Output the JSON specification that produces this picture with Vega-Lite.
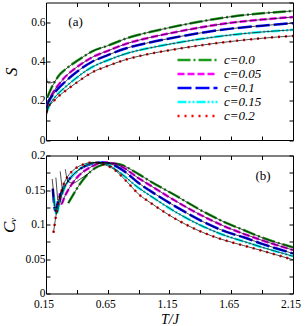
{
  "$schema": "https://vega.github.io/schema/vega-lite/v6.json",
  "padding": {"left": 0, "top": 1.5, "right": 11, "bottom": 0},
  "bounds": "flush",
  "spacing": 15,
  "config": {
    "font": "Liberation Serif",
    "view": {"stroke": "black", "strokeWidth": 1},
    "axis": {"domain": false, "tickColor": "black", "tickSize": -4, "tickWidth": 1, "labelFont": "Liberation Serif", "labelFontSize": 11.5, "labelColor": "black", "labelFlush": false, "labelOverlap": false, "grid": false, "titleFont": "Liberation Serif", "titleColor": "black", "titleFontStyle": "italic", "titleFontWeight": "normal", "labelPadding": 5}
  },
  "datasets": {
    "S": [
      {"series": "c=0.0", "T": 0.16, "S": 0.215}, {"series": "c=0.0", "T": 0.19, "S": 0.26}, {"series": "c=0.0", "T": 0.225, "S": 0.3}, {"series": "c=0.0", "T": 0.25, "S": 0.325}, {"series": "c=0.0", "T": 0.3, "S": 0.356}, {"series": "c=0.0", "T": 0.36, "S": 0.385}, {"series": "c=0.0", "T": 0.45, "S": 0.423}, {"series": "c=0.0", "T": 0.52, "S": 0.45}, {"series": "c=0.0", "T": 0.65, "S": 0.48}, {"series": "c=0.0", "T": 0.8, "S": 0.517}, {"series": "c=0.0", "T": 1.0, "S": 0.551}, {"series": "c=0.0", "T": 1.15, "S": 0.572}, {"series": "c=0.0", "T": 1.4, "S": 0.603}, {"series": "c=0.0", "T": 1.65, "S": 0.628}, {"series": "c=0.0", "T": 1.9, "S": 0.645}, {"series": "c=0.0", "T": 2.15, "S": 0.657},
      {"series": "c=0.05", "T": 0.16, "S": 0.175}, {"series": "c=0.05", "T": 0.185, "S": 0.215}, {"series": "c=0.05", "T": 0.22, "S": 0.255}, {"series": "c=0.05", "T": 0.27, "S": 0.295}, {"series": "c=0.05", "T": 0.3, "S": 0.318}, {"series": "c=0.05", "T": 0.36, "S": 0.352}, {"series": "c=0.05", "T": 0.45, "S": 0.393}, {"series": "c=0.05", "T": 0.52, "S": 0.42}, {"series": "c=0.05", "T": 0.65, "S": 0.454}, {"series": "c=0.05", "T": 0.8, "S": 0.49}, {"series": "c=0.05", "T": 1.0, "S": 0.523}, {"series": "c=0.05", "T": 1.15, "S": 0.543}, {"series": "c=0.05", "T": 1.4, "S": 0.573}, {"series": "c=0.05", "T": 1.65, "S": 0.597}, {"series": "c=0.05", "T": 1.9, "S": 0.613}, {"series": "c=0.05", "T": 2.15, "S": 0.626},
      {"series": "c=0.1", "T": 0.16, "S": 0.165}, {"series": "c=0.1", "T": 0.172, "S": 0.195}, {"series": "c=0.1", "T": 0.2, "S": 0.225}, {"series": "c=0.1", "T": 0.25, "S": 0.263}, {"series": "c=0.1", "T": 0.3, "S": 0.293}, {"series": "c=0.1", "T": 0.36, "S": 0.327}, {"series": "c=0.1", "T": 0.45, "S": 0.37}, {"series": "c=0.1", "T": 0.52, "S": 0.397}, {"series": "c=0.1", "T": 0.65, "S": 0.432}, {"series": "c=0.1", "T": 0.8, "S": 0.467}, {"series": "c=0.1", "T": 1.0, "S": 0.498}, {"series": "c=0.1", "T": 1.15, "S": 0.517}, {"series": "c=0.1", "T": 1.4, "S": 0.545}, {"series": "c=0.1", "T": 1.65, "S": 0.567}, {"series": "c=0.1", "T": 1.9, "S": 0.582}, {"series": "c=0.1", "T": 2.15, "S": 0.595},
      {"series": "c=0.15", "T": 0.16, "S": 0.15}, {"series": "c=0.15", "T": 0.18, "S": 0.18}, {"series": "c=0.15", "T": 0.2, "S": 0.2}, {"series": "c=0.15", "T": 0.25, "S": 0.237}, {"series": "c=0.15", "T": 0.3, "S": 0.266}, {"series": "c=0.15", "T": 0.36, "S": 0.298}, {"series": "c=0.15", "T": 0.45, "S": 0.342}, {"series": "c=0.15", "T": 0.52, "S": 0.37}, {"series": "c=0.15", "T": 0.65, "S": 0.406}, {"series": "c=0.15", "T": 0.8, "S": 0.44}, {"series": "c=0.15", "T": 1.0, "S": 0.47}, {"series": "c=0.15", "T": 1.15, "S": 0.488}, {"series": "c=0.15", "T": 1.4, "S": 0.514}, {"series": "c=0.15", "T": 1.65, "S": 0.535}, {"series": "c=0.15", "T": 1.9, "S": 0.55}, {"series": "c=0.15", "T": 2.15, "S": 0.561},
      {"series": "c=0.2", "T": 0.155, "S": 0.14}, {"series": "c=0.2", "T": 0.17, "S": 0.17}, {"series": "c=0.2", "T": 0.2, "S": 0.19}, {"series": "c=0.2", "T": 0.25, "S": 0.222}, {"series": "c=0.2", "T": 0.3, "S": 0.247}, {"series": "c=0.2", "T": 0.36, "S": 0.275}, {"series": "c=0.2", "T": 0.45, "S": 0.315}, {"series": "c=0.2", "T": 0.52, "S": 0.343}, {"series": "c=0.2", "T": 0.65, "S": 0.377}, {"series": "c=0.2", "T": 0.8, "S": 0.41}, {"series": "c=0.2", "T": 1.0, "S": 0.44}, {"series": "c=0.2", "T": 1.15, "S": 0.457}, {"series": "c=0.2", "T": 1.4, "S": 0.482}, {"series": "c=0.2", "T": 1.65, "S": 0.502}, {"series": "c=0.2", "T": 1.9, "S": 0.518}, {"series": "c=0.2", "T": 2.15, "S": 0.53}
    ],
    "Stail": [
      {"series": "c=0.0", "T": 0.15, "S": 0.355}, {"series": "c=0.0", "T": 0.155, "S": 0.315}, {"series": "c=0.0", "T": 0.16, "S": 0.297}, {"series": "c=0.0", "T": 0.17, "S": 0.29}, {"series": "c=0.0", "T": 0.2, "S": 0.293}, {"series": "c=0.0", "T": 0.225, "S": 0.3},
      {"series": "c=0.05", "T": 0.15, "S": 0.11}, {"series": "c=0.05", "T": 0.16, "S": 0.175},
      {"series": "c=0.1", "T": 0.15, "S": 0.105}, {"series": "c=0.1", "T": 0.16, "S": 0.165},
      {"series": "c=0.15", "T": 0.15, "S": 0.105}, {"series": "c=0.15", "T": 0.16, "S": 0.15},
      {"series": "c=0.2", "T": 0.15, "S": 0.105}, {"series": "c=0.2", "T": 0.155, "S": 0.14}
    ],
    "Cv": [
      {"series": "c=0.0", "T": 0.33, "Cv": 0.131}, {"series": "c=0.0", "T": 0.36, "Cv": 0.14}, {"series": "c=0.0", "T": 0.4, "Cv": 0.152}, {"series": "c=0.0", "T": 0.45, "Cv": 0.165}, {"series": "c=0.0", "T": 0.5, "Cv": 0.175}, {"series": "c=0.0", "T": 0.55, "Cv": 0.182}, {"series": "c=0.0", "T": 0.6, "Cv": 0.186}, {"series": "c=0.0", "T": 0.68, "Cv": 0.189}, {"series": "c=0.0", "T": 0.75, "Cv": 0.187}, {"series": "c=0.0", "T": 0.9, "Cv": 0.173}, {"series": "c=0.0", "T": 1.0, "Cv": 0.162}, {"series": "c=0.0", "T": 1.2, "Cv": 0.142}, {"series": "c=0.0", "T": 1.4, "Cv": 0.121}, {"series": "c=0.0", "T": 1.6, "Cv": 0.103}, {"series": "c=0.0", "T": 1.75, "Cv": 0.092}, {"series": "c=0.0", "T": 1.9, "Cv": 0.081}, {"series": "c=0.0", "T": 2.15, "Cv": 0.067},
      {"series": "c=0.05", "T": 0.26, "Cv": 0.145}, {"series": "c=0.05", "T": 0.275, "Cv": 0.13}, {"series": "c=0.05", "T": 0.3, "Cv": 0.14}, {"series": "c=0.05", "T": 0.35, "Cv": 0.156}, {"series": "c=0.05", "T": 0.4, "Cv": 0.168}, {"series": "c=0.05", "T": 0.5, "Cv": 0.182}, {"series": "c=0.05", "T": 0.63, "Cv": 0.19}, {"series": "c=0.05", "T": 0.75, "Cv": 0.185}, {"series": "c=0.05", "T": 0.9, "Cv": 0.167}, {"series": "c=0.05", "T": 1.0, "Cv": 0.156}, {"series": "c=0.05", "T": 1.2, "Cv": 0.134}, {"series": "c=0.05", "T": 1.4, "Cv": 0.114}, {"series": "c=0.05", "T": 1.6, "Cv": 0.097}, {"series": "c=0.05", "T": 1.75, "Cv": 0.0865}, {"series": "c=0.05", "T": 1.9, "Cv": 0.077}, {"series": "c=0.05", "T": 2.15, "Cv": 0.063},
      {"series": "c=0.1", "T": 0.205, "Cv": 0.152}, {"series": "c=0.1", "T": 0.225, "Cv": 0.12}, {"series": "c=0.1", "T": 0.25, "Cv": 0.135}, {"series": "c=0.1", "T": 0.3, "Cv": 0.155}, {"series": "c=0.1", "T": 0.35, "Cv": 0.168}, {"series": "c=0.1", "T": 0.4, "Cv": 0.177}, {"series": "c=0.1", "T": 0.5, "Cv": 0.187}, {"series": "c=0.1", "T": 0.6, "Cv": 0.19}, {"series": "c=0.1", "T": 0.7, "Cv": 0.186}, {"series": "c=0.1", "T": 0.8, "Cv": 0.175}, {"series": "c=0.1", "T": 0.9, "Cv": 0.16}, {"series": "c=0.1", "T": 1.0, "Cv": 0.148}, {"series": "c=0.1", "T": 1.2, "Cv": 0.126}, {"series": "c=0.1", "T": 1.4, "Cv": 0.106}, {"series": "c=0.1", "T": 1.6, "Cv": 0.09}, {"series": "c=0.1", "T": 1.75, "Cv": 0.0815}, {"series": "c=0.1", "T": 1.9, "Cv": 0.072}, {"series": "c=0.1", "T": 2.15, "Cv": 0.058},
      {"series": "c=0.15", "T": 0.215, "Cv": 0.14}, {"series": "c=0.15", "T": 0.235, "Cv": 0.115}, {"series": "c=0.15", "T": 0.26, "Cv": 0.132}, {"series": "c=0.15", "T": 0.3, "Cv": 0.153}, {"series": "c=0.15", "T": 0.35, "Cv": 0.168}, {"series": "c=0.15", "T": 0.4, "Cv": 0.177}, {"series": "c=0.15", "T": 0.5, "Cv": 0.188}, {"series": "c=0.15", "T": 0.57, "Cv": 0.19}, {"series": "c=0.15", "T": 0.65, "Cv": 0.187}, {"series": "c=0.15", "T": 0.75, "Cv": 0.175}, {"series": "c=0.15", "T": 0.9, "Cv": 0.153}, {"series": "c=0.15", "T": 1.0, "Cv": 0.141}, {"series": "c=0.15", "T": 1.2, "Cv": 0.118}, {"series": "c=0.15", "T": 1.4, "Cv": 0.099}, {"series": "c=0.15", "T": 1.6, "Cv": 0.084}, {"series": "c=0.15", "T": 1.75, "Cv": 0.0755}, {"series": "c=0.15", "T": 1.9, "Cv": 0.067}, {"series": "c=0.15", "T": 2.15, "Cv": 0.054},
      {"series": "c=0.2", "T": 0.21, "Cv": 0.088}, {"series": "c=0.2", "T": 0.22, "Cv": 0.1}, {"series": "c=0.2", "T": 0.23, "Cv": 0.112}, {"series": "c=0.2", "T": 0.24, "Cv": 0.122}, {"series": "c=0.2", "T": 0.26, "Cv": 0.138}, {"series": "c=0.2", "T": 0.29, "Cv": 0.157}, {"series": "c=0.2", "T": 0.32, "Cv": 0.168}, {"series": "c=0.2", "T": 0.38, "Cv": 0.18}, {"series": "c=0.2", "T": 0.45, "Cv": 0.187}, {"series": "c=0.2", "T": 0.53, "Cv": 0.19}, {"series": "c=0.2", "T": 0.6, "Cv": 0.188}, {"series": "c=0.2", "T": 0.7, "Cv": 0.18}, {"series": "c=0.2", "T": 0.8, "Cv": 0.163}, {"series": "c=0.2", "T": 0.9, "Cv": 0.144}, {"series": "c=0.2", "T": 1.0, "Cv": 0.131}, {"series": "c=0.2", "T": 1.2, "Cv": 0.108}, {"series": "c=0.2", "T": 1.4, "Cv": 0.09}, {"series": "c=0.2", "T": 1.6, "Cv": 0.077}, {"series": "c=0.2", "T": 1.75, "Cv": 0.0695}, {"series": "c=0.2", "T": 1.9, "Cv": 0.062}, {"series": "c=0.2", "T": 2.15, "Cv": 0.049}
    ],
    "Cvtail": [
      {"series": "c=0.0", "T": 0.306, "Cv": 0.18}, {"series": "c=0.0", "T": 0.33, "Cv": 0.162}, {"series": "c=0.0", "T": 0.37, "Cv": 0.16}, {"series": "c=0.0", "T": 0.42, "Cv": 0.165}, {"series": "c=0.0", "T": 0.5, "Cv": 0.175},
      {"series": "c=0.05", "T": 0.265, "Cv": 0.177}, {"series": "c=0.05", "T": 0.285, "Cv": 0.145},
      {"series": "c=0.1", "T": 0.2, "Cv": 0.166}, {"series": "c=0.1", "T": 0.215, "Cv": 0.14},
      {"series": "c=0.15", "T": 0.23, "Cv": 0.168}, {"series": "c=0.15", "T": 0.245, "Cv": 0.135}
    ]
  },
  "vconcat": [
    {
      "width": 247,
      "height": 137.5,
      "layer": [
        {
          "data": {"name": "S"},
          "mark": {"type": "line", "strokeWidth": 2.5, "interpolate": "monotone", "clip": true},
          "encoding": {
            "x": {"field": "T", "type": "quantitative", "scale": {"domain": [0.15, 2.15], "nice": false, "zero": false}, "axis": {"orient": "bottom", "values": [0.15, 0.4, 0.65, 0.9, 1.15, 1.4, 1.65, 1.9, 2.15], "labels": false, "title": null}},
            "y": {"field": "S", "type": "quantitative", "scale": {"domain": [0, 0.7], "nice": false}, "axis": {"orient": "left", "values": [0, 0.1, 0.2, 0.3, 0.4, 0.5, 0.6], "labelExpr": "indexof([0, 0.2, 0.4, 0.6], datum.value) >= 0 ? format(datum.value, '.1~f') : ''", "title": "S", "titleFontSize": 17, "titlePadding": 10}},
            "color": {"field": "series", "type": "nominal", "scale": {"domain": ["c=0.0", "c=0.05", "c=0.1", "c=0.15", "c=0.2"], "range": ["#1e9a1e", "#ff00ff", "#0000ff", "#00ffff", "#ff0000"]}, "legend": {"orient": "none", "legendX": 130, "legendY": 51, "title": null, "symbolType": "stroke", "symbolSize": 1600, "symbolStrokeWidth": 2.5, "clipHeight": 13.1, "rowPadding": 0, "labelFont": "Liberation Serif", "labelFontStyle": "italic", "labelFontSize": 13, "labelOffset": 5, "labelColor": "black", "padding": 0}},
            "strokeDash": {"field": "series", "type": "nominal", "scale": {"domain": ["c=0.0", "c=0.05", "c=0.1", "c=0.15", "c=0.2"], "range": [[13, 3, 2, 3], [7, 3], [14, 4], [9, 2, 2, 2, 2, 2], [2, 5]]}, "legend": {"orient": "none", "legendX": 130, "legendY": 51, "title": null, "symbolType": "stroke", "symbolSize": 1600, "symbolStrokeWidth": 2.5, "clipHeight": 13.1, "rowPadding": 0, "labelFont": "Liberation Serif", "labelFontStyle": "italic", "labelFontSize": 13, "labelOffset": 5, "labelColor": "black", "padding": 0}}
          }
        },
        {
          "data": {"name": "S"},
          "mark": {"type": "line", "color": "black", "strokeWidth": 0.7, "interpolate": "monotone", "clip": true},
          "encoding": {
            "x": {"field": "T", "type": "quantitative", "axis": {"orient": "top", "values": [0.15, 0.4, 0.65, 0.9, 1.15, 1.4, 1.65, 1.9, 2.15], "labels": false, "title": null}},
            "y": {"field": "S", "type": "quantitative", "axis": {"orient": "right", "values": [0, 0.1, 0.2, 0.3, 0.4, 0.5, 0.6, 0.7], "labels": false, "title": null}},
            "detail": {"field": "series"}
          }
        },
        {
          "data": {"name": "Stail"},
          "mark": {"type": "line", "color": "black", "strokeWidth": 0.7, "interpolate": "monotone", "clip": true},
          "encoding": {
            "x": {"field": "T", "type": "quantitative", "axis": null},
            "y": {"field": "S", "type": "quantitative", "axis": null},
            "detail": {"field": "series"}
          }
        },
        {
          "data": {"values": [{"T": 0.389, "S": 0.6, "label": "(a)"}]},
          "mark": {"type": "text", "font": "Liberation Serif", "fontSize": 13, "color": "black"},
          "encoding": {
            "x": {"field": "T", "type": "quantitative", "axis": null},
            "y": {"field": "S", "type": "quantitative", "axis": null},
            "text": {"field": "label"}
          }
        }
      ]
    },
    {
      "width": 247,
      "height": 138,
      "layer": [
        {
          "data": {"name": "Cv"},
          "mark": {"type": "line", "strokeWidth": 2.5, "interpolate": "monotone", "clip": true},
          "encoding": {
            "x": {"field": "T", "type": "quantitative", "scale": {"domain": [0.15, 2.15], "nice": false, "zero": false}, "axis": {"orient": "bottom", "values": [0.15, 0.4, 0.65, 0.9, 1.15, 1.4, 1.65, 1.9, 2.15], "labelExpr": "indexof([0.15, 0.65, 1.15, 1.65, 2.15], datum.value) >= 0 ? format(datum.value, '.2f') : ''", "labelPadding": 9, "labelOffset": -2.5, "title": "T/J", "titleFontSize": 14, "titlePadding": 2}},
            "y": {"field": "Cv", "type": "quantitative", "scale": {"domain": [0, 0.2], "nice": false}, "axis": {"orient": "left", "values": [0, 0.025, 0.05, 0.075, 0.1, 0.125, 0.15, 0.175, 0.2], "labelExpr": "indexof([0, 0.05, 0.1, 0.15, 0.2], datum.value) >= 0 ? format(datum.value, '.2~f') : ''", "title": "Cᵥ", "titleFontSize": 17, "titlePadding": 6}},
            "color": {"field": "series", "type": "nominal", "legend": null},
            "strokeDash": {"field": "series", "type": "nominal", "legend": null}
          }
        },
        {
          "data": {"name": "Cv"},
          "mark": {"type": "line", "color": "black", "strokeWidth": 0.7, "interpolate": "monotone", "clip": true},
          "encoding": {
            "x": {"field": "T", "type": "quantitative", "axis": {"orient": "top", "values": [0.15, 0.4, 0.65, 0.9, 1.15, 1.4, 1.65, 1.9, 2.15], "labels": false, "title": null}},
            "y": {"field": "Cv", "type": "quantitative", "axis": {"orient": "right", "values": [0, 0.025, 0.05, 0.075, 0.1, 0.125, 0.15, 0.175, 0.2], "labels": false, "title": null}},
            "detail": {"field": "series"}
          }
        },
        {
          "data": {"name": "Cvtail"},
          "mark": {"type": "line", "color": "black", "strokeWidth": 0.7, "interpolate": "monotone", "clip": true},
          "encoding": {
            "x": {"field": "T", "type": "quantitative", "axis": null},
            "y": {"field": "Cv", "type": "quantitative", "axis": null},
            "detail": {"field": "series"}
          }
        },
        {
          "data": {"values": [{"T": 1.907, "Cv": 0.171, "label": "(b)"}]},
          "mark": {"type": "text", "font": "Liberation Serif", "fontSize": 13, "color": "black"},
          "encoding": {
            "x": {"field": "T", "type": "quantitative", "axis": null},
            "y": {"field": "Cv", "type": "quantitative", "axis": null},
            "text": {"field": "label"}
          }
        }
      ]
    }
  ],
  "resolve": {"legend": {"color": "independent", "strokeDash": "independent"}}
}
